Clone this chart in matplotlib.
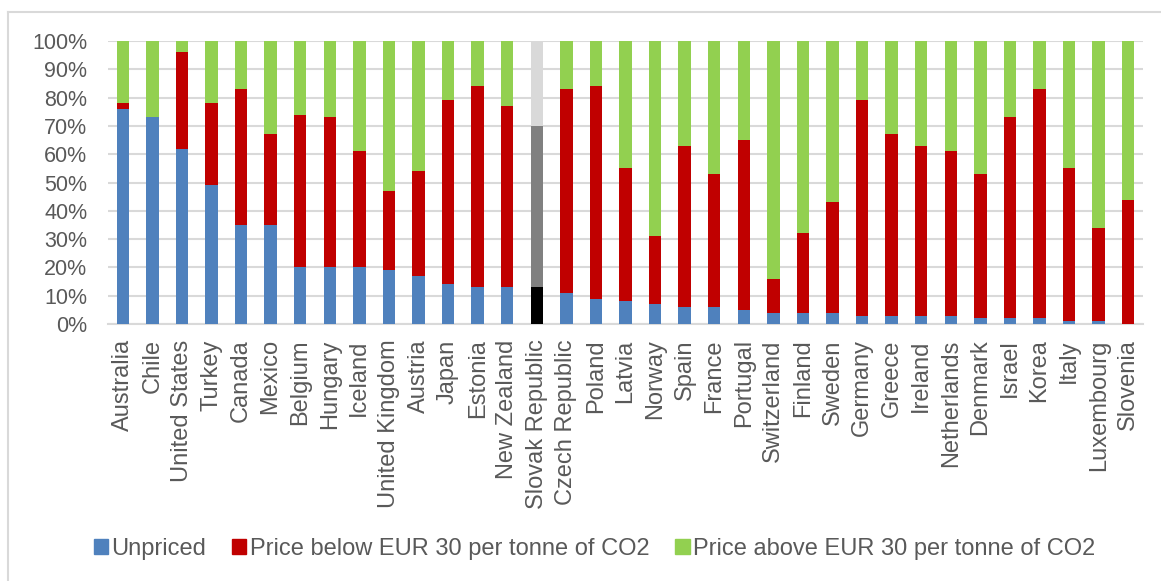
import matplotlib.pyplot as plt
import numpy as np
from matplotlib.lines import Line2D

# Data (shares of emissions, %)
countries = ['Australia', 'Chile', 'United States', 'Turkey', 'Canada', 'Mexico',
             'Belgium', 'Hungary', 'Iceland', 'United Kingdom', 'Austria', 'Japan',
             'Estonia', 'New Zealand', 'Slovak Republic', 'Czech Republic', 'Poland',
             'Latvia', 'Norway', 'Spain', 'France', 'Portugal', 'Switzerland',
             'Finland', 'Sweden', 'Germany', 'Greece', 'Ireland', 'Netherlands',
             'Denmark', 'Israel', 'Korea', 'Italy', 'Luxembourg', 'Slovenia']

unpriced = [76, 73, 62, 49, 35, 35, 20, 20, 20, 19, 17, 14, 13, 13, 13, 11, 9,
            8, 7, 6, 6, 5, 4, 4, 4, 3, 3, 3, 3, 2, 2, 2, 1, 1, 0]
# cumulative top of the "below EUR 30" segment
below_top = [78, 73, 96, 78, 83, 67, 74, 73, 61, 47, 54, 79, 84, 77, 70, 83, 84,
             55, 31, 63, 53, 65, 16, 32, 43, 79, 67, 63, 61, 53, 73, 83, 55, 34, 44]

highlight = 'Slovak Republic'

BLUE = '#4F81BD'
RED = '#C00000'
GREEN = '#92D050'
TXT = '#595959'
GRID = '#D9D9D9'

unpriced = np.array(unpriced)
below = np.array(below_top) - unpriced
above = 100 - np.array(below_top)

plt.rcParams['font.family'] = ['Liberation Sans', 'DejaVu Sans']
plt.rcParams['font.size'] = 16

fig = plt.figure(figsize=(11.61, 5.81), dpi=100)
ax = fig.add_axes([0.093, 0.4423, 0.8915, 0.4871])

x = np.arange(len(countries))
c1 = [BLUE] * len(x)
c2 = [RED] * len(x)
c3 = [GREEN] * len(x)
i = countries.index(highlight)
c1[i], c2[i], c3[i] = 'black', '#808080', '#D9D9D9'

w = 0.42
ax.bar(x, unpriced, w, color=c1, zorder=3)
ax.bar(x, below, w, bottom=unpriced, color=c2, zorder=3)
ax.bar(x, above, w, bottom=unpriced + below, color=c3, zorder=3)

ax.set_xlim(-0.5, len(x) - 0.5)
ax.set_ylim(0, 100)
ax.set_yticks(np.arange(0, 101, 10))
ax.set_yticklabels([f'{v}%' for v in range(0, 101, 10)])
ax.set_xticks(x)
ax.set_xticklabels(countries, rotation=90)
ax.tick_params(axis='both', length=0, colors=TXT)
ax.tick_params(axis='x', pad=11, labelsize=17)
ax.tick_params(axis='y', pad=15, labelsize=15.5)

ax.grid(axis='y', color=GRID, linewidth=1.5, zorder=0)
for s in ['top', 'right', 'left']:
    ax.spines[s].set_visible(False)
ax.spines['bottom'].set_color(GRID)
ax.spines['bottom'].set_linewidth(1.5)

handles = [plt.Rectangle((0, 0), 1, 1, color=BLUE),
           plt.Rectangle((0, 0), 1, 1, color=RED),
           plt.Rectangle((0, 0), 1, 1, color=GREEN)]
labels = ['Unpriced', 'Price below EUR 30 per tonne of CO2',
          'Price above EUR 30 per tonne of CO2']
fig.legend(handles, labels, loc='center', bbox_to_anchor=(0.512, 0.055),
           ncol=3, frameon=False, handlelength=0.6, handleheight=0.6,
           handletextpad=0.15, columnspacing=1.1, labelcolor=TXT, fontsize=17)

# chart border
fig.add_artist(Line2D([0.007, 1], [0.979, 0.979], color=GRID, lw=1.5))
fig.add_artist(Line2D([0.007, 0.007], [0, 0.979], color=GRID, lw=1.5))

fig.savefig('out.png', dpi=100)
